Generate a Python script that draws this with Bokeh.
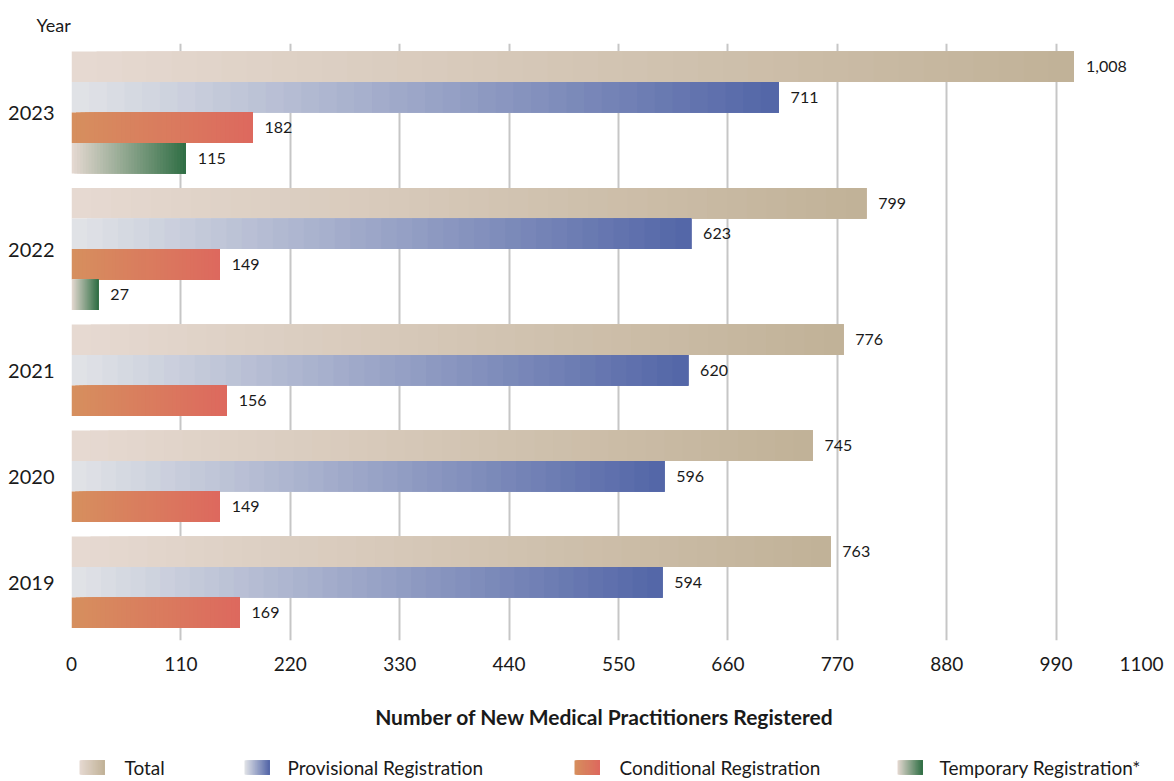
from bokeh.plotting import figure
from bokeh.models import Range1d, FixedTicker, ColumnDataSource
from bokeh.layouts import column
from bokeh.embed import file_html
from bokeh.resources import INLINE
from bokeh.core.properties import value

# ---------------- data ----------------
years = ["2023", "2022", "2021", "2020", "2019"]
total = [1008, 799, 776, 745, 763]
provisional = [711, 623, 620, 596, 594]
conditional = [182, 149, 156, 149, 169]
temporary = [115, 27, None, None, None]
series_names = ["Total", "Provisional Registration", "Conditional Registration", "Temporary Registration*"]
x_ticks = [0, 110, 220, 330, 440, 550, 660, 770, 880, 990, 1100]
x_title = "Number of New Medical Practitioners Registered"
y_title = "Year"

# ---------------- styles ----------------
FONT = "Lato"
TXT = "#1a1a1a"
grads = [
    ((230, 217, 210), (193, 178, 151)),   # Total
    ((226, 228, 231), (82, 101, 167)),    # Provisional
    ((214, 143, 94), (221, 105, 94)),     # Conditional
    ((230, 217, 210), (47, 110, 68)),     # Temporary
]
N = 40
BAR_H = 30.5
GAP = 14.5
TOP_PAD = 8
LEFT_B, RIGHT_B = 71, 9
W = 1174


def mix(c0, c1, t):
    return "#%02x%02x%02x" % tuple(int(round(a + (b - a) * t)) for a, b in zip(c0, c1))


def slices(v, y, gi, src, x0=0.0):
    c0, c1 = grads[gi]
    for i in range(N):
        src["left"].append(x0 + v * i / N)
        src["right"].append(x0 + v)
        src["y"].append(y)
        src["color"].append(mix(c0, c1, (i + 0.5) / N))


series = [total, provisional, conditional, temporary]

bars = dict(left=[], right=[], y=[], color=[])
labels = dict(x=[], y=[], text=[])
group_centers = []
cursor = TOP_PAD
for gi_year, yr in enumerate(years):
    start = cursor
    for si, s in enumerate(series):
        v = s[gi_year]
        if v is None:
            continue
        yc = cursor + BAR_H / 2
        slices(v, yc, si, bars)
        labels["x"].append(v)
        labels["y"].append(yc)
        labels["text"].append("{:,}".format(v))
        cursor += BAR_H
    group_centers.append(int(round((start + cursor) / 2)))
    cursor += GAP

FRAME_H = 597
p = figure(width=W, height=690, output_backend="svg", toolbar_location=None,
           x_range=Range1d(0, 1100), y_range=Range1d(FRAME_H, 0),
           min_border_left=LEFT_B, min_border_right=RIGHT_B, min_border_top=43, min_border_bottom=50)
p.outline_line_color = None
p.background_fill_color = "white"
p.border_fill_color = "white"

p.hbar(y="y", height=BAR_H, left="left", right="right", fill_color="color",
       line_color=None, source=ColumnDataSource(bars))
p.text(x="x", y="y", text="text", source=ColumnDataSource(labels), x_offset=12,
       text_baseline="middle", text_align="left", text_font=value(FONT),
       text_font_size="16px", text_color=TXT)

p.xgrid.ticker = FixedTicker(ticks=x_ticks)
p.xgrid.grid_line_color = "#c6c6c6"
p.xgrid.grid_line_width = 2
p.ygrid.grid_line_color = None

xa = p.xaxis[0]
xa.ticker = FixedTicker(ticks=x_ticks)
xa.axis_line_color = None
xa.major_tick_line_color = None
xa.minor_tick_line_color = None
xa.major_tick_out = 0
xa.major_label_standoff = 11
xa.major_label_text_font = FONT
xa.major_label_text_font_size = "19px"
xa.major_label_text_color = TXT
xa.major_label_overrides = {1100: "1100\u2007"}

ya = p.yaxis[0]
ya.ticker = FixedTicker(ticks=group_centers)
ya.major_label_overrides = {c: y for c, y in zip(group_centers, years)}
ya.axis_line_color = None
ya.major_tick_line_color = None
ya.minor_tick_line_color = None
ya.major_tick_out = 0
ya.major_label_standoff = 17
ya.major_label_text_font = FONT
ya.major_label_text_font_size = "20px"
ya.major_label_text_color = TXT

p.title.text = y_title
p.title.align = "left"
p.title.offset = -35
p.title.standoff = 16
p.title.text_font = FONT
p.title.text_font_size = "18px"
p.title.text_font_style = "normal"
p.title.text_color = TXT

# ---------------- bottom: axis title + legend (x in canvas pixels) ----------------
leg = figure(width=W, height=91, output_backend="svg", toolbar_location=None,
             x_range=Range1d(LEFT_B, W - RIGHT_B), y_range=Range1d(91, 0),
             min_border_left=LEFT_B, min_border_right=RIGHT_B,
             min_border_top=0, min_border_bottom=0)
leg.axis.visible = False
leg.grid.visible = False
leg.outline_line_color = None
leg.background_fill_color = "white"
leg.border_fill_color = "white"

leg.text(x=[604], y=[26], text=[x_title], text_align="center", text_baseline="middle",
         text_font=value(FONT), text_font_size="21px", text_font_style="bold", text_color=TXT)

sw_x = [79, 244, 574, 897]
tx_x = [124, 287, 619, 939]
SW = 25
sw = dict(left=[], right=[], y=[], color=[])
for i in range(4):
    slices(SW, 77, i, sw, x0=sw_x[i])
leg.hbar(y="y", height=14, left="left", right="right", fill_color="color",
         line_color=None, source=ColumnDataSource(sw))
leg.text(x=tx_x, y=[77] * 4, text=series_names, text_align="left", text_baseline="middle",
         text_font=value(FONT), text_font_size="19px", text_color=TXT)

layout = column(p, leg, spacing=0)
open("out.html", "w").write(file_html(layout, INLINE))
